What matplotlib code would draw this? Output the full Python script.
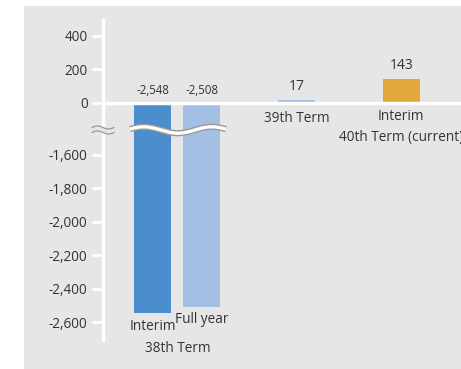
import matplotlib.pyplot as plt
import numpy as np
from matplotlib.patches import Rectangle
from matplotlib.ticker import FixedLocator, FuncFormatter

# data
sub_labels = ['Interim', 'Full year', '', 'Interim']
term_labels = ['38th Term', '39th Term', '40th Term (current)']
values = [-2548, -2508, 17, 143]
value_text = ['-2,548', '-2,508', '17', '143']
bar_colors = ['#4a8ecd', '#a4bfe4', '#a4bfe4', '#e3a83b']
yticks = [400, 200, 0, -1600, -1800, -2000, -2200, -2400, -2600]

xpos = np.array([0, 1, 2.93, 5.07])

# broken y axis: values between -155 and -1445 are squeezed out
BRK_HI, BRK_LO, SHIFT = -155, -1445, 1290


def fwd(v):
    v = np.asarray(v, float)
    return np.where(v >= BRK_HI, v, np.where(v <= BRK_LO, v + SHIFT, BRK_HI))


def inv(t):
    t = np.asarray(t, float)
    return np.where(t >= BRK_HI, t, t - SHIFT)


plt.rcParams['font.family'] = ['Open Sans', 'DejaVu Sans']
txt = '#333333'
bg = '#e6e6e6'
cat_fs = 9.8

fig = plt.figure(figsize=(4.61, 3.69), dpi=100)
fig.patch.set_facecolor('white')
fig.patches.append(Rectangle((24 / 461, 0), 1, 1 - 6 / 369, transform=fig.transFigure,
                             facecolor=bg, edgecolor='none', zorder=-10))

ax = fig.add_axes([103 / 461, 1 - 340 / 369, 358 / 461, 320 / 369])
ax.set_facecolor('none')
ax.set_yscale('function', functions=(fwd, inv))
ax.set_ylim(-2707, 495)
ax.set_xlim(-1.02, 6.29)

ax.bar(xpos, values, width=0.755, color=bar_colors, zorder=2)
ax.axhline(0, color='white', lw=2.5, zorder=3)

for s in ['top', 'right', 'bottom']:
    ax.spines[s].set_visible(False)
ax.spines['left'].set_color('white')
ax.spines['left'].set_linewidth(2.5)
ax.yaxis.set_major_locator(FixedLocator(yticks))
ax.yaxis.set_minor_locator(FixedLocator([]))
ax.yaxis.set_major_formatter(FuncFormatter(lambda v, p: '{:,.0f}'.format(v)))
ax.tick_params(axis='y', colors='white', length=8, width=2, pad=3,
               labelcolor=txt, labelsize=9.8)
ax.set_xticks([])

# value labels
for i, (v, t) in enumerate(zip(values, value_text)):
    top = max(v, 0)
    fs = 8.3 if v < 0 else 10
    ax.annotate(t, (xpos[i], top), xytext=(0, 4), textcoords='offset points',
                ha='center', va='bottom', fontsize=fs, color=txt)

# category labels
for i in [0, 1]:
    ax.annotate(sub_labels[i], (xpos[i], values[i]), xytext=(0, -4),
                textcoords='offset points', ha='center', va='top',
                fontsize=cat_fs, color=txt)
ax.annotate(term_labels[0], ((xpos[0] + xpos[1]) / 2, values[0]), xytext=(0, -20),
            textcoords='offset points', ha='center', va='top', fontsize=cat_fs, color=txt)
ax.annotate(term_labels[1], (xpos[2], 0), xytext=(0, -6),
            textcoords='offset points', ha='center', va='top', fontsize=cat_fs, color=txt)
ax.annotate(sub_labels[3], (xpos[3], 0), xytext=(0, -4.5),
            textcoords='offset points', ha='center', va='top', fontsize=cat_fs, color=txt)
ax.annotate(term_labels[2], (xpos[3], 0), xytext=(0, -19.5),
            textcoords='offset points', ha='center', va='top', fontsize=cat_fs, color=txt,
            annotation_clip=False)

# break marks
ybrk = (340 - 130) / 320
amp = 3.2 / 320
xs = np.linspace((130 - 103) / 358, (226 - 103) / 358, 200)
ys = ybrk + amp * np.sin((xs * 358 - 27) / 68 * 2 * np.pi + 0.3)
ax.plot(xs, ys, transform=ax.transAxes, color='#9a9a9a', lw=4.5, clip_on=False,
        zorder=5, solid_capstyle='butt')
ax.plot(xs, ys, transform=ax.transAxes, color='white', lw=2.4, clip_on=False,
        zorder=6, solid_capstyle='butt')
xs2 = np.linspace((92 - 103) / 358, (114 - 103) / 358, 60)
for dy in (-2.5 / 320, 2.5 / 320):
    ys2 = ybrk + dy + 1.5 / 320 * np.sin((xs2 * 358 + 11) / 22 * 2 * np.pi)
    ax.plot(xs2, ys2, transform=ax.transAxes, color='#9a9a9a', lw=0.9,
            clip_on=False, zorder=6)
ax.fill_between(xs2, ybrk - 2.5 / 320, ybrk + 2.5 / 320, transform=ax.transAxes,
                color=bg, clip_on=False, zorder=5, lw=0)

fig.savefig('out.png', dpi=100)
